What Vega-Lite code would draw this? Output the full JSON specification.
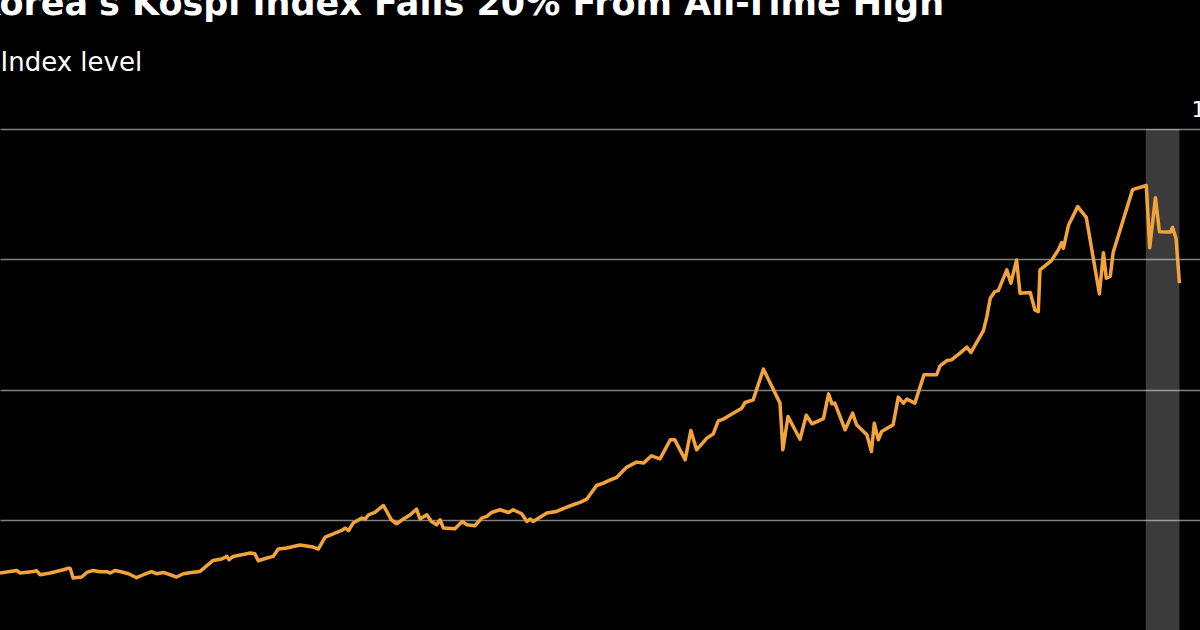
{
  "$schema": "https://vega.github.io/schema/vega-lite/v6.json",
  "width": 1200,
  "height": 501,
  "autosize": {"type": "none"},
  "padding": {"left": 0, "top": 129, "right": 0, "bottom": 0},
  "background": "#000000",
  "title": {
    "text": "Korea's Kospi Index Falls 20% From All-Time High",
    "anchor": "start",
    "frame": "group",
    "dx": -27,
    "dy": 29,
    "offset": 28,
    "baseline": "alphabetic",
    "font": "DejaVu Sans",
    "fontSize": 35,
    "fontWeight": "bold",
    "color": "#ffffff"
  },
  "datasets": {
    "band": [{"start": 2005, "end": 2064}],
    "kospi": [
      {"day": 0, "index": 149.2}, {"day": 29, "index": 154.1}, {"day": 35, "index": 149.2}, {"day": 58, "index": 152.2},
      {"day": 64, "index": 153.6}, {"day": 70, "index": 145.9}, {"day": 88, "index": 149.2}, {"day": 111, "index": 155.5},
      {"day": 120, "index": 158.7}, {"day": 123, "index": 157.4}, {"day": 128, "index": 139.6}, {"day": 143, "index": 141.5},
      {"day": 152, "index": 150.3}, {"day": 163, "index": 154.1}, {"day": 175, "index": 151.7}, {"day": 187, "index": 151.7},
      {"day": 193, "index": 149.2}, {"day": 201, "index": 154.1}, {"day": 210, "index": 152.2}, {"day": 225, "index": 147.8},
      {"day": 239, "index": 140.2}, {"day": 251, "index": 145.9}, {"day": 265, "index": 151.7}, {"day": 274, "index": 147.8},
      {"day": 286, "index": 150.3}, {"day": 298, "index": 145.9}, {"day": 309, "index": 141.5}, {"day": 321, "index": 147.8},
      {"day": 335, "index": 150.3}, {"day": 350, "index": 152.2}, {"day": 359, "index": 160.6}, {"day": 373, "index": 173.3},
      {"day": 388, "index": 176.0}, {"day": 397, "index": 181.0}, {"day": 401, "index": 174.6}, {"day": 408, "index": 181.0},
      {"day": 432, "index": 186.1}, {"day": 438, "index": 187.5}, {"day": 446, "index": 186.1}, {"day": 452, "index": 172.7},
      {"day": 467, "index": 177.9}, {"day": 478, "index": 181.0}, {"day": 487, "index": 195.1}, {"day": 502, "index": 197.0},
      {"day": 525, "index": 203.0}, {"day": 548, "index": 199.0}, {"day": 557, "index": 195.1}, {"day": 569, "index": 218.1},
      {"day": 583, "index": 224.4}, {"day": 598, "index": 230.7}, {"day": 604, "index": 235.3}, {"day": 610, "index": 230.7},
      {"day": 618, "index": 244.9}, {"day": 633, "index": 254.5}, {"day": 639, "index": 252.6}, {"day": 645, "index": 260.8},
      {"day": 656, "index": 265.2}, {"day": 671, "index": 278.6}, {"day": 685, "index": 251.2}, {"day": 694, "index": 243.6},
      {"day": 706, "index": 252.6}, {"day": 718, "index": 260.8}, {"day": 729, "index": 271.7}, {"day": 735, "index": 252.6},
      {"day": 747, "index": 260.8}, {"day": 755, "index": 248.0}, {"day": 764, "index": 241.7}, {"day": 770, "index": 251.2},
      {"day": 776, "index": 235.3}, {"day": 796, "index": 234.0}, {"day": 809, "index": 248.0}, {"day": 817, "index": 241.7},
      {"day": 831, "index": 239.7}, {"day": 843, "index": 254.5}, {"day": 852, "index": 257.6}, {"day": 860, "index": 265.2},
      {"day": 875, "index": 270.4}, {"day": 890, "index": 265.2}, {"day": 898, "index": 270.4}, {"day": 913, "index": 262.7},
      {"day": 922, "index": 248.0}, {"day": 928, "index": 252.6}, {"day": 933, "index": 248.0}, {"day": 957, "index": 264.1},
      {"day": 974, "index": 267.1}, {"day": 992, "index": 275.5}, {"day": 1003, "index": 280.0}, {"day": 1015, "index": 284.7},
      {"day": 1027, "index": 290.9}, {"day": 1044, "index": 316.9}, {"day": 1056, "index": 321.5}, {"day": 1068, "index": 327.8},
      {"day": 1079, "index": 332.2}, {"day": 1097, "index": 352.2}, {"day": 1114, "index": 361.7}, {"day": 1126, "index": 359.8},
      {"day": 1140, "index": 373.8}, {"day": 1155, "index": 368.0}, {"day": 1173, "index": 404.4}, {"day": 1181, "index": 404.4},
      {"day": 1199, "index": 366.1}, {"day": 1209, "index": 422.2}, {"day": 1219, "index": 385.3}, {"day": 1237, "index": 407.7},
      {"day": 1248, "index": 415.4}, {"day": 1257, "index": 440.8}, {"day": 1266, "index": 444.1}, {"day": 1298, "index": 465.1},
      {"day": 1304, "index": 475.9}, {"day": 1318, "index": 481.0}, {"day": 1336, "index": 539.8}, {"day": 1365, "index": 474.7},
      {"day": 1370, "index": 385.3}, {"day": 1379, "index": 449.1}, {"day": 1400, "index": 405.4}, {"day": 1411, "index": 451.4},
      {"day": 1421, "index": 435.1}, {"day": 1441, "index": 445.2}, {"day": 1450, "index": 492.5}, {"day": 1456, "index": 473.4},
      {"day": 1461, "index": 474.7}, {"day": 1479, "index": 423.6}, {"day": 1492, "index": 455.6}, {"day": 1499, "index": 433.2},
      {"day": 1517, "index": 414.0}, {"day": 1525, "index": 382.0}, {"day": 1530, "index": 436.4}, {"day": 1537, "index": 404.4},
      {"day": 1543, "index": 420.3}, {"day": 1563, "index": 433.2}, {"day": 1572, "index": 486.2}, {"day": 1581, "index": 474.7},
      {"day": 1587, "index": 482.4}, {"day": 1601, "index": 474.7}, {"day": 1617, "index": 528.9}, {"day": 1639, "index": 528.9},
      {"day": 1645, "index": 546.1}, {"day": 1657, "index": 556.3}, {"day": 1665, "index": 557.6}, {"day": 1680, "index": 570.5},
      {"day": 1692, "index": 582.0}, {"day": 1699, "index": 571.6}, {"day": 1721, "index": 613.7}, {"day": 1727, "index": 640.6},
      {"day": 1733, "index": 675.8}, {"day": 1741, "index": 688.4}, {"day": 1747, "index": 690.3}, {"day": 1762, "index": 730.0},
      {"day": 1769, "index": 704.5}, {"day": 1779, "index": 749.1}, {"day": 1785, "index": 685.4}, {"day": 1803, "index": 686.5},
      {"day": 1811, "index": 653.4}, {"day": 1817, "index": 650.1}, {"day": 1820, "index": 730.0}, {"day": 1840, "index": 747.8},
      {"day": 1852, "index": 768.3}, {"day": 1858, "index": 782.3}, {"day": 1861, "index": 771.5}, {"day": 1870, "index": 816.2},
      {"day": 1886, "index": 851.2}, {"day": 1901, "index": 830.5}, {"day": 1924, "index": 684.0}, {"day": 1931, "index": 763.1},
      {"day": 1936, "index": 714.1}, {"day": 1943, "index": 717.9}, {"day": 1948, "index": 763.5}, {"day": 1982, "index": 883.8},
      {"day": 2006, "index": 891.8}, {"day": 2012, "index": 772.5}, {"day": 2022, "index": 868.2}, {"day": 2029, "index": 803.3},
      {"day": 2048, "index": 802.4}, {"day": 2052, "index": 811.4}, {"day": 2058, "index": 790.3}, {"day": 2064, "index": 704.5}
    ]
  },
  "layer": [
    {
      "data": {"name": "band"},
      "mark": {"type": "rect", "color": "#ffffff", "opacity": 0.23},
      "encoding": {
        "x": {"field": "start", "type": "quantitative", "scale": {"domain": [0, 2100], "nice": false, "zero": false}, "axis": null},
        "x2": {"field": "end"}
      }
    },
    {
      "data": {"name": "kospi"},
      "mark": {"type": "line", "color": "#f2a33c", "strokeWidth": 3.5, "strokeJoin": "round", "clip": true},
      "encoding": {
        "x": {"field": "day", "type": "quantitative", "scale": {"domain": [0, 2100], "nice": false, "zero": false}, "axis": null},
        "y": {
          "field": "index",
          "type": "quantitative",
          "scale": {"domain": [40, 1000], "nice": false, "zero": false},
          "axis": {
            "orient": "right",
            "title": "Index level",
            "titleAngle": 0,
            "titleX": -1200,
            "titleY": -59,
            "titleAlign": "left",
            "titleBaseline": "alphabetic",
            "titleFont": "DejaVu Sans",
            "titleFontSize": 26,
            "titleFontWeight": "normal",
            "titleColor": "#ffffff",
            "values": [250, 500, 750, 1000],
            "format": ",d",
            "grid": true,
            "gridColor": "#808080",
            "gridWidth": 1.5,
            "domain": false,
            "ticks": false,
            "labelPadding": 54,
            "labelAlign": "right",
            "labelBaseline": "alphabetic",
            "labelOffset": -13,
            "labelFont": "DejaVu Sans",
            "labelFontSize": 22,
            "labelColor": "#ffffff",
            "labelFlush": false,
            "labelOverlap": false
          }
        }
      }
    }
  ],
  "config": {"view": {"stroke": null}}
}
